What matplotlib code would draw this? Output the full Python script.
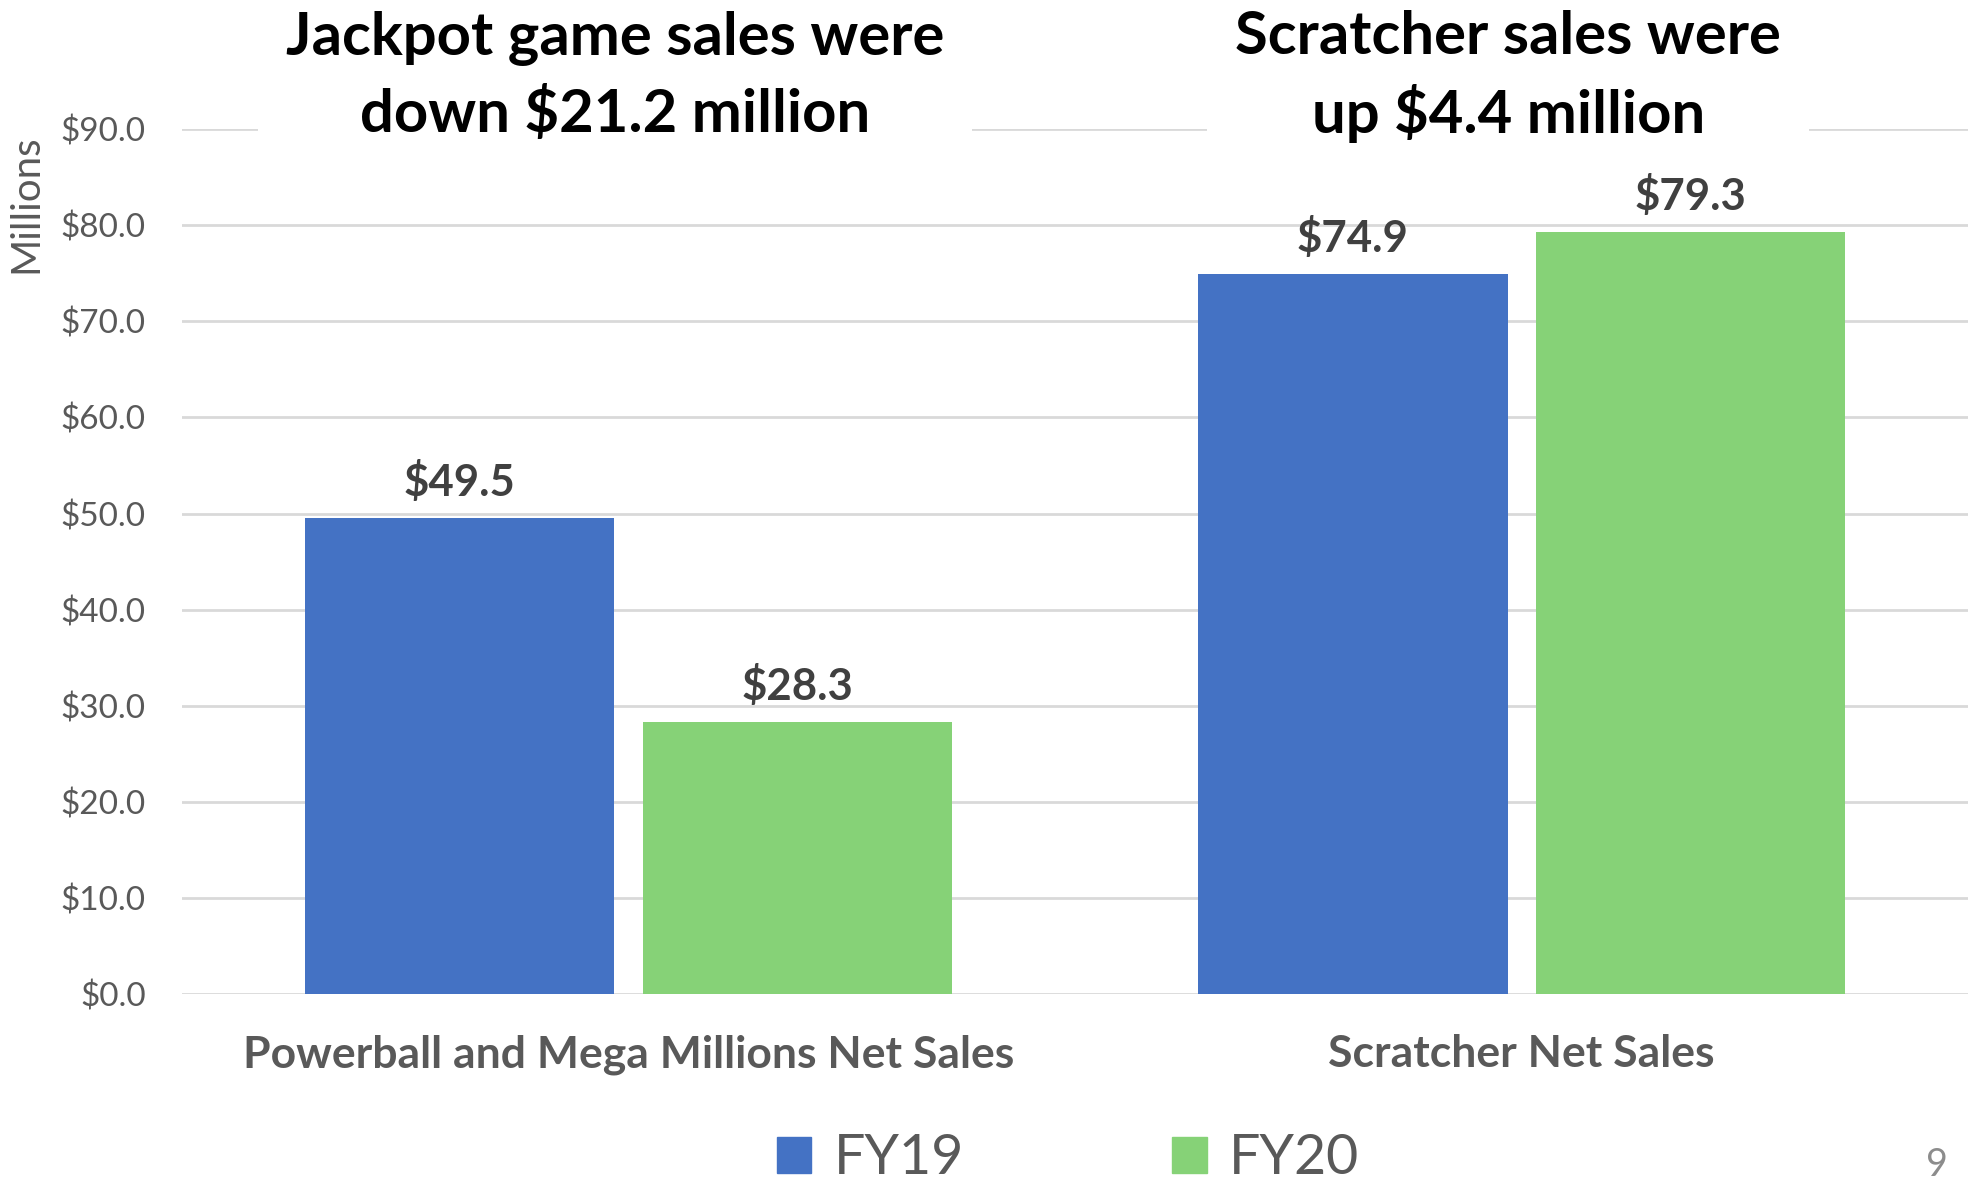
import matplotlib.pyplot as plt
import numpy as np

plt.rcParams['font.family'] = ['Lato', 'DejaVu Sans']

categories = ['Powerball and Mega Millions Net Sales', 'Scratcher Net Sales']
series = ['FY19', 'FY20']
fy19 = [49.5, 74.9]
fy20 = [28.3, 79.3]
yticks = [0, 10, 20, 30, 40, 50, 60, 70, 80, 90]
titles = ['Jackpot game sales were\ndown $21.2 million',
          'Scratcher sales were\nup $4.4 million']
colors = ['#4472C4', '#86D277']

fig = plt.figure(figsize=(19.78, 11.86), dpi=100)
ax = fig.add_axes([0.092, 0.162, 0.903, 0.729])

x = np.arange(len(categories))
w = 0.347
off = w / 2 + 0.0157
for vals, dx, c in zip([fy19, fy20], [-off, off], colors):
    bars = ax.bar(x + dx, vals, w, color=c, zorder=3)
    for b, v in zip(bars, vals):
        ax.annotate('$%.1f' % v, (b.get_x() + b.get_width() / 2, v),
                    xytext=(0, 11), textcoords='offset points',
                    ha='center', va='bottom', fontsize=31.5,
                    fontweight='bold', color='#404040', zorder=5)

ax.set_xlim(-0.5, 1.5)
ax.set_ylim(0, 90)
ax.set_yticks(yticks)
ax.set_yticklabels(['$%.1f' % t for t in yticks], fontsize=24, color='#595959')
ax.set_xticks(x)
ax.set_xticklabels(categories, fontsize=32, fontweight='bold', color='#595959')
ax.tick_params(axis='both', length=0)
ax.tick_params(axis='x', pad=29)
ax.tick_params(axis='y', pad=26)
ax.yaxis.grid(True, color='#D9D9D9', linewidth=2, zorder=0)
for s in ax.spines.values():
    s.set_visible(False)

fig.text(0.013, 0.828, 'Millions', rotation=90, fontsize=29, color='#595959',
         ha='center', va='center')

# titles sitting over the top gridline
for xi, t in zip(x, titles):
    ax.text(xi - 0.015, 95.5, t, ha='center', va='center', fontsize=43,
            fontweight='bold', color='black', linespacing=1.42,
            bbox=dict(facecolor='white', edgecolor='none', pad=20), zorder=6)

# legend
handles = [plt.Rectangle((0, 0), 1, 1, color=c) for c in colors]
fig.legend(handles, series, loc='center', bbox_to_anchor=(0.54, 0.023),
           ncol=2, frameon=False, fontsize=40, labelcolor='#595959',
           handlelength=0.62, handleheight=0.62, handletextpad=0.4,
           columnspacing=3.75, borderpad=0.1)

fig.text(0.979, 0.018, '9', fontsize=27, color='#8C8C8C', ha='center', va='center')

fig.savefig('out.png', dpi=100)
